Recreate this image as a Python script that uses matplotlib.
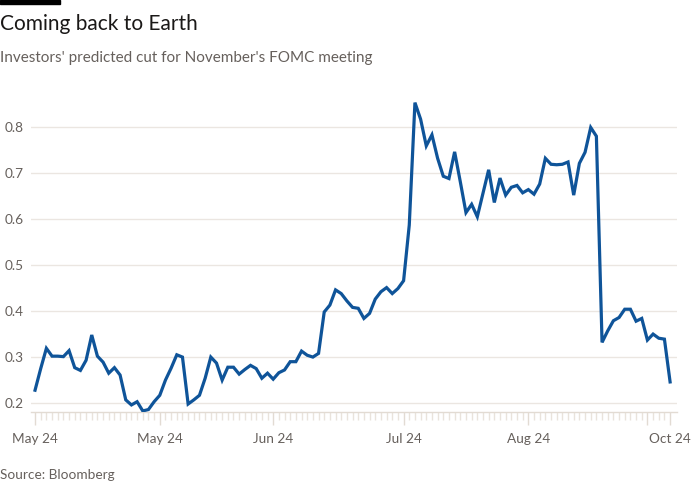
import matplotlib
matplotlib.use("Agg")
from matplotlib import pyplot as plt

# Investors' predicted cut (percentage points) for November's FOMC meeting
cut = [0.228, 0.275, 0.319, 0.302, 0.302, 0.301, 0.314, 0.277, 0.271, 0.293,
       0.348, 0.302, 0.289, 0.265, 0.277, 0.261, 0.207, 0.196, 0.203, 0.183,
       0.186, 0.203, 0.217, 0.250, 0.276, 0.305, 0.300, 0.198, 0.207, 0.217,
       0.254, 0.300, 0.287, 0.250, 0.278, 0.278, 0.263, 0.273, 0.282, 0.275,
       0.254, 0.265, 0.252, 0.266, 0.272, 0.290, 0.290, 0.313, 0.304, 0.300,
       0.308, 0.398, 0.413, 0.446, 0.438, 0.422, 0.408, 0.406, 0.384, 0.395,
       0.426, 0.442, 0.451, 0.438, 0.449, 0.466, 0.587, 0.853, 0.817, 0.759,
       0.783, 0.732, 0.693, 0.688, 0.746, 0.681, 0.614, 0.632, 0.605, 0.656,
       0.707, 0.636, 0.689, 0.652, 0.669, 0.673, 0.657, 0.664, 0.654, 0.676,
       0.732, 0.719, 0.718, 0.719, 0.724, 0.652, 0.721, 0.745, 0.799, 0.780,
       0.332, 0.357, 0.379, 0.386, 0.404, 0.404, 0.378, 0.384, 0.337, 0.350,
       0.341, 0.339, 0.246]

# month ticks (index of the observation) and their labels
month_idx = [0, 22, 42, 65, 87, 108, 112]
month_lab = ['May 24', 'May 24', 'Jun 24', 'Jul 24', 'Aug 24', '', 'Oct 24']
y_ticks = [0.2, 0.3, 0.4, 0.5, 0.6, 0.7, 0.8]

plt.rcParams['font.family'] = ['Lato', 'DejaVu Sans']

fig = plt.figure(figsize=(7, 5), dpi=100)
fig.patch.set_facecolor('white')
ax = fig.add_axes([0.0439, 0.1754, 0.9231, 0.635])

x = list(range(len(cut)))
ax.plot(x, cut, color='#0f5499', linewidth=2.3, solid_joinstyle='miter',
        zorder=3)

ax.set_xlim(-0.76, 113.2)
ax.set_ylim(0.18, 0.87)

# gridlines
ax.set_yticks(y_ticks)
ax.set_yticklabels(['%.1f' % v for v in y_ticks])
ax.grid(axis='y', color='#ebe6e1', linewidth=1)
ax.set_axisbelow(True)
ax.tick_params(axis='y', length=0, pad=18.5, labelsize=9.8,
               labelcolor='#66605c')
for lab in ax.get_yticklabels():
    lab.set_horizontalalignment('left')

# x ticks: one minor tick per observation, major at month starts
ax.set_xticks(x, minor=True)
ax.set_xticks(month_idx)
ax.set_xticklabels(month_lab)
ax.tick_params(axis='x', which='major', length=9, width=1, color='#e2dbd3',
               pad=6, labelsize=9.8, labelcolor='#66605c')
ax.tick_params(axis='x', which='minor', length=6, width=1, color='#e9e3dc')

for side in ['top', 'right', 'left']:
    ax.spines[side].set_visible(False)
ax.spines['bottom'].set_color('#e2dbd3')
ax.spines['bottom'].set_linewidth(1)

# header
fig.patches.append(plt.Rectangle((0, 496 / 500), 60 / 700, 4 / 500,
                                 transform=fig.transFigure,
                                 color='#000000', zorder=5))
fig.text(0.0, 1 - 24 / 500, 'Coming back to Earth', fontsize=15,
         color='#1a1817', va='center', ha='left')
fig.text(0.0, 1 - 58 / 500, "Investors' predicted cut for November's FOMC meeting",
         fontsize=11, color='#66605c', va='center', ha='left')
fig.text(0.0, 1 - 475 / 500, 'Source: Bloomberg', fontsize=9.8,
         color='#66605c', va='center', ha='left')

fig.savefig('out.png', dpi=100, facecolor='white')
